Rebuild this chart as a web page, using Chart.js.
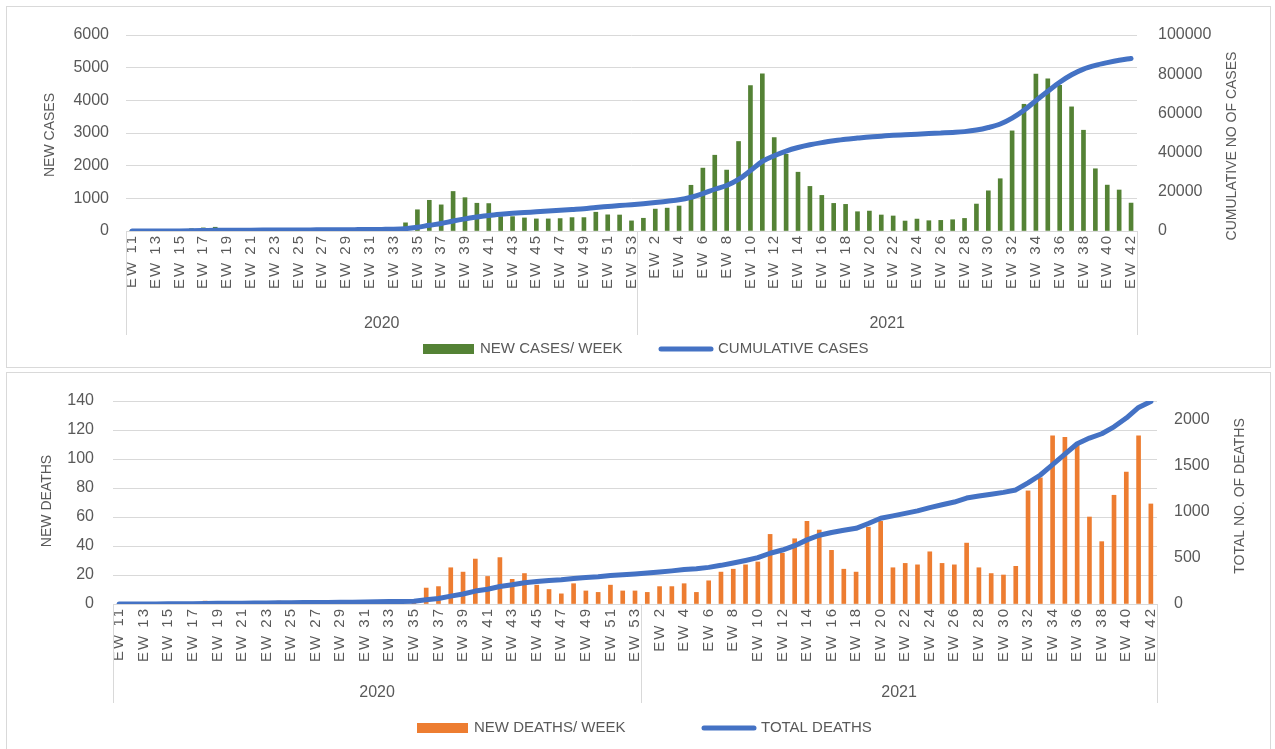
<!DOCTYPE html>
<html>
<head>
<meta charset="utf-8">
<script src="https://cdn.jsdelivr.net/npm/chart.js@4.4.0/dist/chart.umd.min.js"></script>
<style>
  body { margin: 0; background: #fff; width: 1275px; height: 749px; overflow: hidden; position: relative; }
  .box { position: absolute; border: 1px solid #d9d9d9; }
  canvas { position: absolute; left: 0; }
</style>
</head>
<body>
<div class="box" style="left:6px;top:6px;width:1263px;height:360px"></div>
<div class="box" style="left:6px;top:372px;width:1263px;height:400px"></div>
<canvas id="casesChart" width="1275" height="369" style="top:0"></canvas>
<canvas id="deathsChart" width="1275" height="379" style="top:370px"></canvas>
<script>
// === Categories (epi weeks) ===
const weeks2020 = ["EW 11","EW 12","EW 13","EW 14","EW 15","EW 16","EW 17","EW 18","EW 19","EW 20",
  "EW 21","EW 22","EW 23","EW 24","EW 25","EW 26","EW 27","EW 28","EW 29","EW 30",
  "EW 31","EW 32","EW 33","EW 34","EW 35","EW 36","EW 37","EW 38","EW 39","EW 40",
  "EW 41","EW 42","EW 43","EW 44","EW 45","EW 46","EW 47","EW 48","EW 49","EW 50",
  "EW 51","EW 52","EW 53"];
const weeks2021 = ["EW 1","EW 2","EW 3","EW 4","EW 5","EW 6","EW 7","EW 8","EW 9","EW 10",
  "EW 11","EW 12","EW 13","EW 14","EW 15","EW 16","EW 17","EW 18","EW 19","EW 20",
  "EW 21","EW 22","EW 23","EW 24","EW 25","EW 26","EW 27","EW 28","EW 29","EW 30",
  "EW 31","EW 32","EW 33","EW 34","EW 35","EW 36","EW 37","EW 38","EW 39","EW 40",
  "EW 41","EW 42"];

// === Cases ===
const newCases2020 = [2, 5, 10, 15, 30, 70, 95, 115, 40, 30,
  25, 20, 20, 25, 25, 30, 30, 35, 40, 45,
  50, 60, 80, 250, 650, 940, 800, 1210, 1020, 850,
  840, 440, 440, 400, 370, 370, 380, 410, 410, 575,
  495, 490, 310];
const newCases2021 = [390, 670, 700, 765, 1400, 1925, 2320, 1865, 2740, 4450,
  4810, 2860, 2350, 1800, 1365, 1090, 845, 815, 590, 610,
  490, 460, 305, 365, 315, 325, 345, 385, 825, 1230,
  1600, 3065, 3880, 4800, 4655, 4460, 3800, 3085, 1905, 1405,
  1255, 855];
const cumulativeCases2020 = [0, 10, 20, 30, 60, 130, 230, 340, 380, 410,
  440, 460, 480, 500, 530, 560, 590, 620, 660, 710,
  760, 820, 900, 1200, 1900, 2900, 3800, 5100, 6200, 7100,
  7900, 8500, 9000, 9400, 9800, 10200, 10600, 11000, 11400, 12000,
  12500, 13000, 13400];
const cumulativeCases2021 = [13900, 14500, 15200, 15900, 17200, 19100, 21300, 23200, 26300, 30800,
  35500, 38400, 40800, 42600, 44000, 45100, 46000, 46800, 47400, 48000,
  48400, 48800, 49100, 49400, 49700, 50000, 50300, 50700, 51500, 52800,
  54600, 57600, 61600, 66500, 71300, 75900, 79700, 82600, 84500, 85900,
  87100, 88000];
const casesTicks = [0, 1000, 2000, 3000, 4000, 5000, 6000];
const cumulativeTicks = [0, 20000, 40000, 60000, 80000, 100000];

// === Deaths ===
const newDeaths2020 = [0, 0, 0, 1, 1, 1, 1, 2, 1, 1,
  1, 1, 1, 2, 1, 1, 1, 1, 2, 1,
  2, 2, 2, 2, 2, 11, 12, 25, 22, 31,
  19, 32, 17, 21, 13, 10, 7, 14, 9, 8,
  13, 9, 9];
const newDeaths2021 = [8, 12, 12, 14, 8, 16, 22, 24, 27, 29,
  48, 35, 45, 57, 51, 37, 24, 22, 53, 57,
  25, 28, 27, 36, 28, 27, 42, 25, 21, 20,
  26, 78, 87, 116, 115, 110, 60, 43, 75, 91,
  116, 69];
const totalDeaths2020 = [0, 0, 0, 1, 2, 3, 4, 6, 7, 8,
  9, 10, 11, 13, 14, 15, 16, 17, 19, 20,
  22, 24, 26, 28, 30, 45, 60, 85, 108, 140,
  160, 190, 208, 230, 243, 255, 262, 277, 286, 295,
  308, 317, 325];
const totalDeaths2021 = [335, 347, 359, 373, 381, 397, 419, 445, 472, 502,
  550, 585, 632, 695, 745, 775, 799, 820, 872, 930,
  955, 982, 1009, 1045, 1075, 1105, 1148, 1170, 1190, 1210,
  1236, 1312, 1398, 1510, 1625, 1737, 1798, 1845, 1920, 2015,
  2130, 2195];
const deathsTicks = [0, 20, 40, 60, 80, 100, 120, 140];
const totalDeathsTicks = [0, 500, 1000, 1500, 2000];

const weekLabels = weeks2020.concat(weeks2021);

const FONT = '"Liberation Sans", Arial, sans-serif';
const TEXT = "#595959";
const GRID = "#d9d9d9";
const BLUE = "#4472C4";

// the week labels are drawn a bit spread out, like the original
const spacedWeekLabels = {
  id: "spacedWeekLabels",
  afterLayout(chart) {
    const s = chart.scales.x;
    if (s._spaced) return;
    const orig = s.drawLabels;
    s.drawLabels = function (area) {
      const ctx = this.ctx;
      const prev = ctx.letterSpacing;
      ctx.letterSpacing = "2px";
      orig.call(this, area);
      ctx.letterSpacing = prev || "0px";
    };
    s._spaced = true;
  },
};

// draws year groups, axis titles and legend on top of the chart
function decorations(opts) {
  return {
    id: "decor",
    afterDraw(chart) {
      const { ctx, chartArea: a, scales } = chart;
      const x = scales.x;
      const half = (x.getPixelForValue(1) - x.getPixelForValue(0)) / 2;
      const split = x.getPixelForValue(weeks2020.length - 1) + half;
      ctx.save();

      // year separators
      ctx.strokeStyle = GRID;
      ctx.lineWidth = 1;
      [a.left, split, a.right].forEach((px) => {
        const xx = Math.round(px) + 0.5;
        ctx.beginPath();
        ctx.moveTo(xx, a.bottom);
        ctx.lineTo(xx, a.bottom + opts.sepLen);
        ctx.stroke();
      });

      ctx.fillStyle = TEXT;
      ctx.textBaseline = "middle";
      ctx.textAlign = "center";
      ctx.font = "16px " + FONT;
      ctx.fillText("2020", (a.left + split) / 2, opts.yearY);
      ctx.fillText("2021", (split + a.right) / 2, opts.yearY);

      // axis titles (both read bottom to top)
      ctx.font = "14px " + FONT;
      opts.titles.forEach((t) => {
        ctx.save();
        ctx.translate(t.x, t.y);
        ctx.rotate(-Math.PI / 2);
        ctx.fillText(t.text, 0, 0);
        ctx.restore();
      });

      // legend
      ctx.textAlign = "left";
      ctx.font = "15px " + FONT;
      const ly = opts.legendY;
      const lg = opts.legend;
      ctx.fillStyle = lg.barColor;
      ctx.fillRect(lg.barX, ly - 5, 51, 10);
      ctx.fillStyle = TEXT;
      ctx.fillText(lg.barText, lg.barX + 57, ly);
      ctx.strokeStyle = BLUE;
      ctx.lineWidth = 5;
      ctx.lineCap = "round";
      ctx.beginPath();
      ctx.moveTo(lg.lineX + 3, ly);
      ctx.lineTo(lg.lineX + 53, ly);
      ctx.stroke();
      ctx.fillText(lg.lineText, lg.lineX + 60, ly);

      ctx.restore();
    },
  };
}

function buildChart(id, cfg) {
  return new Chart(document.getElementById(id), {
    type: "bar",
    data: {
      labels: weekLabels,
      datasets: [
        {
          type: "line",
          label: cfg.lineLabel,
          data: cfg.lineData,
          yAxisID: "y1",
          borderColor: BLUE,
          borderWidth: 5,
          pointRadius: 0,
          tension: cfg.tension,
          cubicInterpolationMode: cfg.tension ? "monotone" : "default",
          borderCapStyle: "round",
          borderJoinStyle: "round",
          order: 0,
        },
        {
          label: cfg.barLabel,
          data: cfg.barData,
          yAxisID: "y",
          backgroundColor: cfg.barColor,
          barThickness: 4,
          order: 1,
        },
      ],
    },
    options: {
      responsive: false,
      animation: false,
      layout: { padding: { top: cfg.top, left: 0, right: 0, bottom: 0 } },
      plugins: { legend: { display: false }, tooltip: { enabled: false } },
      scales: {
        x: {
          grid: { display: false, drawTicks: false },
          border: { display: true, color: GRID },
          ticks: {
            autoSkip: false,
            minRotation: 90,
            maxRotation: 90,
            padding: 3,
            color: TEXT,
            font: { family: FONT, size: 15 },
            callback: (v, i) => (i % 2 === 0 ? weekLabels[i] : ""),
          },
          afterFit: (s) => { s.height = cfg.xHeight; },
        },
        y: {
          position: "left",
          min: 0,
          max: cfg.leftMax,
          ticks: {
            padding: cfg.leftPad,
            color: TEXT,
            font: { family: FONT, size: 16 },
            callback: (v) => String(v),
          },
          afterBuildTicks: (s) => { s.ticks = cfg.leftTicks.map((v) => ({ value: v })); },
          grid: { color: GRID, drawTicks: false },
          border: { display: false },
          afterFit: (s) => { s.width = cfg.leftWidth; },
        },
        y1: {
          position: "right",
          min: 0,
          max: cfg.rightMax,
          ticks: {
            padding: cfg.rightPad,
            color: TEXT,
            font: { family: FONT, size: 16 },
            callback: (v) => String(v),
          },
          afterBuildTicks: (s) => { s.ticks = cfg.rightTicks.map((v) => ({ value: v })); },
          grid: { display: false, drawTicks: false },
          border: { display: false },
          afterFit: (s) => { s.width = cfg.rightWidth; },
        },
      },
    },
    plugins: [spacedWeekLabels, decorations(cfg.decor)],
  });
}

// === Top: cases ===
buildChart("casesChart", {
  barLabel: "NEW CASES/ WEEK",
  lineLabel: "CUMULATIVE CASES",
  barData: newCases2020.concat(newCases2021),
  lineData: cumulativeCases2020.concat(cumulativeCases2021),
  barColor: "#548235",
  tension: 0.4,
  top: 35, xHeight: 138,
  leftMax: 6000, leftTicks: casesTicks, leftPad: 17, leftWidth: 126,
  rightMax: 100000, rightTicks: cumulativeTicks, rightPad: 21, rightWidth: 138,
  decor: {
    sepLen: 104,
    yearY: 324,
    legendY: 349,
    titles: [
      { text: "NEW CASES", x: 50, y: 135 },
      { text: "CUMULATIVE NO OF CASES", x: 1232, y: 146 },
    ],
    legend: {
      barColor: "#548235", barX: 423, barText: "NEW CASES/ WEEK",
      lineX: 658, lineText: "CUMULATIVE CASES",
    },
  },
});

// === Bottom: deaths ===
buildChart("deathsChart", {
  barLabel: "NEW DEATHS/ WEEK",
  lineLabel: "TOTAL DEATHS",
  barData: newDeaths2020.concat(newDeaths2021),
  lineData: totalDeaths2020.concat(totalDeaths2021),
  barColor: "#ED7D31",
  tension: 0,
  top: 31, xHeight: 145,
  leftMax: 140, leftTicks: deathsTicks, leftPad: 19, leftWidth: 113,
  rightMax: 2200, rightTicks: totalDeathsTicks, rightPad: 17, rightWidth: 118,
  decor: {
    sepLen: 99,
    yearY: 323,
    legendY: 358,
    titles: [
      { text: "NEW DEATHS", x: 47, y: 131 },
      { text: "TOTAL NO. OF DEATHS", x: 1240, y: 126 },
    ],
    legend: {
      barColor: "#ED7D31", barX: 417, barText: "NEW DEATHS/ WEEK",
      lineX: 701, lineText: "TOTAL DEATHS",
    },
  },
});
</script>
</body>
</html>
